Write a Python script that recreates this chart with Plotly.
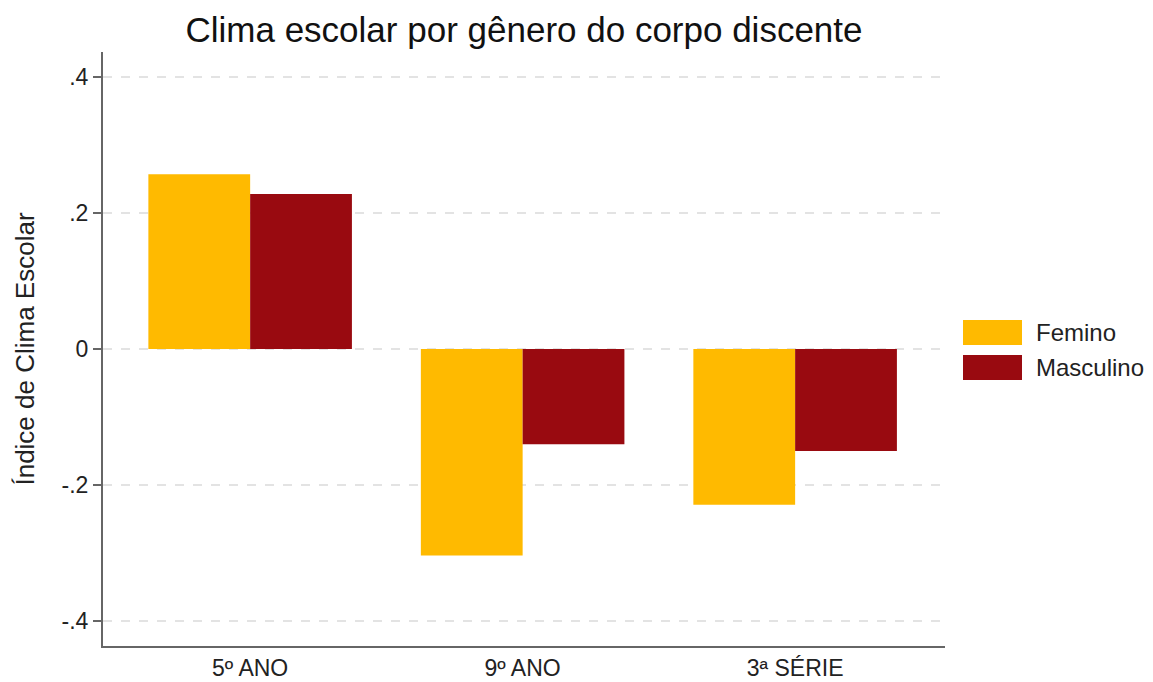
import plotly.graph_objects as go

categories = ["5º ANO", "9º ANO", "3ª SÉRIE"]
femino = [0.257, -0.304, -0.229]
masculino = [0.228, -0.140, -0.150]
series_names = ["Femino", "Masculino"]
series_colors = ["#FFBA00", "#990A10"]
y_tickvals = [-0.4, -0.2, 0, 0.2, 0.4]
y_ticktext = ["-.4", "-.2", "0", ".2", ".4"]

FONT = "Liberation Sans, Arial, sans-serif"

# page body has an 8px margin, so figure is sized/placed to compensate
OFF = 8
W, H = 1153 - OFF, 682 - OFF
PL, PR, PT, PB = 103, 945, 52, 646  # plot-area edges in page pixels

fig = go.Figure()
for name, vals, col in zip(series_names, [femino, masculino], series_colors):
    fig.add_trace(go.Bar(x=categories, y=vals, name=name, marker=dict(color=col, line=dict(width=0)),
                         showlegend=False))

def px_x(x):
    return (x - PL) / (PR - PL)

def px_y(y):
    return (PB - y) / (PB - PT)

# manual legend with large swatches (as in reference)
leg_x0, leg_x1 = 963, 1022
leg_rows = [(320, 345), (355, 380)]
for (y0, y1), name, col in zip(leg_rows, series_names, series_colors):
    fig.add_shape(type="rect", xref="paper", yref="paper",
                  x0=px_x(leg_x0), x1=px_x(leg_x1), y0=px_y(y1), y1=px_y(y0),
                  fillcolor=col, line=dict(width=0))
    fig.add_annotation(xref="paper", yref="paper", x=px_x(1034),
                       y=px_y((y0 + y1) / 2), text=name, showarrow=False,
                       xanchor="left", yanchor="middle", font=dict(family=FONT, size=24, color="#222"))

fig.update_layout(
    width=W, height=H,
    margin=dict(l=PL - OFF, r=W - (PR - OFF), t=PT - OFF, b=H - (PB - OFF), autoexpand=False),
    paper_bgcolor="white", plot_bgcolor="white",
    barmode="group", bargap=0.253, bargroupgap=0,
    title=dict(text="Clima escolar por gênero do corpo discente", x=0.5, xref="paper",
               y=1 - (30 - OFF) / H, yref="container", yanchor="middle",
               font=dict(family=FONT, size=35, color="#111")),
    font=dict(family=FONT, size=22, color="#222"),
)
fig.update_xaxes(range=[-0.54, 2.55], showline=True, linecolor="#666", linewidth=2,
                 showgrid=False, ticks="", automargin=False, ticklabelstandoff=0,
                 tickfont=dict(family=FONT, size=23, color="#222"))
fig.update_yaxes(range=[-0.437, 0.437], tickvals=y_tickvals, ticktext=y_ticktext,
                 showline=True, linecolor="#666", linewidth=2, ticks="outside", ticklen=8,
                 tickwidth=1.5, tickcolor="#666", automargin=False,
                 showgrid=True, gridcolor="#e3e3e3", gridwidth=2, griddash="dash",
                 zeroline=False,
                 tickfont=dict(family=FONT, size=23, color="#222"),
                 title=dict(text="Índice de Clima Escolar", standoff=19,
                            font=dict(family=FONT, size=26, color="#222")))

fig.write_html("out.html")
